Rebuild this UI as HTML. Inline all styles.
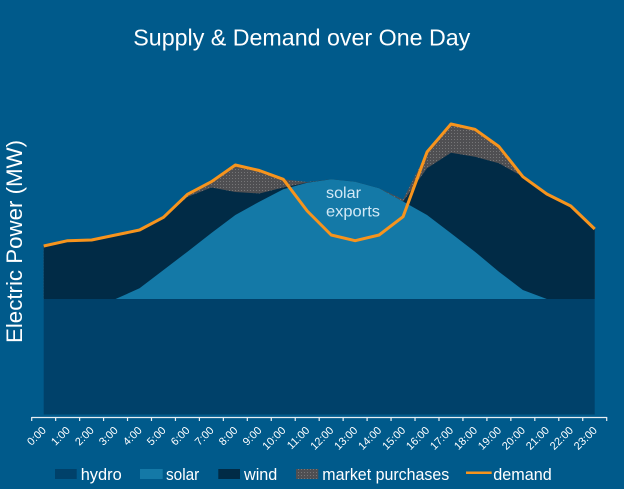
<!DOCTYPE html>
<html>
<head>
<meta charset="utf-8">
<style>
  html,body{margin:0;padding:0;background:#005A8B;}
  svg{display:block;}
  text{font-family:"Liberation Sans", sans-serif;}
</style>
</head>
<body>
<svg width="624" height="489" viewBox="0 0 624 489" xmlns="http://www.w3.org/2000/svg">
  <defs>
    <pattern id="dots" width="3" height="3" patternUnits="userSpaceOnUse">
      <rect width="3" height="3" fill="#4f4f52"/>
      <rect x="1" y="1" width="1" height="1" fill="#767678"/>
    </pattern>
  </defs>
  <rect width="624" height="489" fill="#005A8B"/>

  <!-- Title -->
  <text x="133.3" y="45.5" font-size="23" fill="#FFFFFF" textLength="337" lengthAdjust="spacingAndGlyphs">Supply &amp; Demand over One Day</text>

  <!-- Y axis label -->
  <text transform="translate(22,241.5) rotate(-90)" text-anchor="middle" font-size="22" fill="#FFFFFF" textLength="203" lengthAdjust="spacingAndGlyphs">Electric Power (MW)</text>

  <!-- Market purchases (top cumulative) -->
  <polygon fill="url(#dots)" points="43.7,246 67.66,240.7 91.62,240 115.57,235 139.53,230 163.49,217.3 187.45,194.3 211.41,181.7 235.36,165 259.32,170.5 283.28,179.3 307.24,182 331.2,179.3 355.15,181.7 379.11,188.3 403.07,199.5 427.03,152 450.99,124 474.94,129.3 498.9,146.5 522.86,176.7 546.82,194 570.78,206 594.73,229 594.73,299 43.7,299"/>

  <!-- Wind -->
  <polygon fill="#012B46" points="43.7,246 67.66,240.7 91.62,240 115.57,235 139.53,230 163.49,217.3 187.45,197 211.41,187.5 235.36,192 259.32,193.5 283.28,187.5 307.24,182.5 331.2,179.3 355.15,181.7 379.11,188.3 403.07,201.5 427.03,168.3 450.99,152.7 474.94,156.7 498.9,163.3 522.86,176.7 546.82,194 570.78,206 594.73,229 594.73,299 43.7,299"/>

  <!-- Solar -->
  <polygon fill="#1479A7" points="43.7,299 115.57,299 139.53,288.3 163.49,270 187.45,251.7 211.41,233 235.36,215 259.32,201.7 283.28,189.3 307.24,182.7 331.2,179.3 355.15,181.7 379.11,188.3 403.07,201.5 427.03,215 450.99,233.3 474.94,251.7 498.9,271.7 522.86,290 546.82,299 594.73,299"/>

  <!-- Hydro -->
  <rect x="43.7" y="299" width="551" height="115.5" fill="#00416A"/>

  <!-- solar exports label -->
  <text x="326" y="198" font-size="16" fill="#D3E9F6" textLength="35" lengthAdjust="spacingAndGlyphs">solar</text>
  <text x="326" y="216.5" font-size="16" fill="#D3E9F6" textLength="54" lengthAdjust="spacingAndGlyphs">exports</text>

  <!-- Demand line -->
  <polyline fill="none" stroke="#F7941D" stroke-width="3" stroke-linejoin="round" stroke-linecap="butt" points="43.7,246 67.66,240.7 91.62,240 115.57,235 139.53,230 163.49,217.3 187.45,194.3 211.41,181.7 235.36,165 259.32,170.5 283.28,179.3 307.24,211 331.2,235 355.15,240.7 379.11,235 403.07,216.7 427.03,152 450.99,124 474.94,129.3 498.9,146.5 522.86,176.7 546.82,194 570.78,206 594.73,229"/>

  <!-- X axis -->
  <line x1="31.7" y1="417.5" x2="606.7" y2="417.5" stroke="#E8EEF2" stroke-width="1.2"/>
  <g stroke="#E8EEF2" stroke-width="1.2">
    <line x1="31.7" y1="417" x2="31.7" y2="421"/>
    <line x1="55.66" y1="417" x2="55.66" y2="421"/>
    <line x1="79.62" y1="417" x2="79.62" y2="421"/>
    <line x1="103.57" y1="417" x2="103.57" y2="421"/>
    <line x1="127.53" y1="417" x2="127.53" y2="421"/>
    <line x1="151.49" y1="417" x2="151.49" y2="421"/>
    <line x1="175.45" y1="417" x2="175.45" y2="421"/>
    <line x1="199.41" y1="417" x2="199.41" y2="421"/>
    <line x1="223.36" y1="417" x2="223.36" y2="421"/>
    <line x1="247.32" y1="417" x2="247.32" y2="421"/>
    <line x1="271.28" y1="417" x2="271.28" y2="421"/>
    <line x1="295.24" y1="417" x2="295.24" y2="421"/>
    <line x1="319.2" y1="417" x2="319.2" y2="421"/>
    <line x1="343.15" y1="417" x2="343.15" y2="421"/>
    <line x1="367.11" y1="417" x2="367.11" y2="421"/>
    <line x1="391.07" y1="417" x2="391.07" y2="421"/>
    <line x1="415.03" y1="417" x2="415.03" y2="421"/>
    <line x1="438.99" y1="417" x2="438.99" y2="421"/>
    <line x1="462.94" y1="417" x2="462.94" y2="421"/>
    <line x1="486.9" y1="417" x2="486.9" y2="421"/>
    <line x1="510.86" y1="417" x2="510.86" y2="421"/>
    <line x1="534.82" y1="417" x2="534.82" y2="421"/>
    <line x1="558.78" y1="417" x2="558.78" y2="421"/>
    <line x1="582.73" y1="417" x2="582.73" y2="421"/>
    <line x1="606.7" y1="417" x2="606.7" y2="421"/>
  </g>

  <!-- X tick labels -->
  <g font-size="11" fill="#FFFFFF" text-anchor="end">
    <text transform="translate(46.7,431) rotate(-45)">0:00</text>
    <text transform="translate(70.66,431) rotate(-45)">1:00</text>
    <text transform="translate(94.62,431) rotate(-45)">2:00</text>
    <text transform="translate(118.57,431) rotate(-45)">3:00</text>
    <text transform="translate(142.53,431) rotate(-45)">4:00</text>
    <text transform="translate(166.49,431) rotate(-45)">5:00</text>
    <text transform="translate(190.45,431) rotate(-45)">6:00</text>
    <text transform="translate(214.41,431) rotate(-45)">7:00</text>
    <text transform="translate(238.36,431) rotate(-45)">8:00</text>
    <text transform="translate(262.32,431) rotate(-45)">9:00</text>
    <text transform="translate(286.28,431) rotate(-45)">10:00</text>
    <text transform="translate(310.24,431) rotate(-45)">11:00</text>
    <text transform="translate(334.2,431) rotate(-45)">12:00</text>
    <text transform="translate(358.15,431) rotate(-45)">13:00</text>
    <text transform="translate(382.11,431) rotate(-45)">14:00</text>
    <text transform="translate(406.07,431) rotate(-45)">15:00</text>
    <text transform="translate(430.03,431) rotate(-45)">16:00</text>
    <text transform="translate(453.99,431) rotate(-45)">17:00</text>
    <text transform="translate(477.94,431) rotate(-45)">18:00</text>
    <text transform="translate(501.9,431) rotate(-45)">19:00</text>
    <text transform="translate(525.86,431) rotate(-45)">20:00</text>
    <text transform="translate(549.82,431) rotate(-45)">21:00</text>
    <text transform="translate(573.78,431) rotate(-45)">22:00</text>
    <text transform="translate(597.73,431) rotate(-45)">23:00</text>
  </g>

  <!-- Legend -->
  <rect x="55" y="469" width="21.7" height="10" fill="#00416A"/>
  <text x="80.7" y="480" font-size="17" fill="#FFFFFF" textLength="41" lengthAdjust="spacingAndGlyphs">hydro</text>
  <rect x="140" y="469" width="22.7" height="10" fill="#1479A7"/>
  <text x="166" y="480" font-size="17" fill="#FFFFFF" textLength="33.3" lengthAdjust="spacingAndGlyphs">solar</text>
  <rect x="218.3" y="469" width="21.7" height="10" fill="#012B46"/>
  <text x="244" y="480" font-size="17" fill="#FFFFFF" textLength="33.3" lengthAdjust="spacingAndGlyphs">wind</text>
  <rect x="296" y="469" width="22.3" height="10" fill="url(#dots)"/>
  <text x="322.3" y="480" font-size="17" fill="#FFFFFF" textLength="127" lengthAdjust="spacingAndGlyphs">market purchases</text>
  <line x1="466" y1="472.7" x2="491.7" y2="472.7" stroke="#F7941D" stroke-width="2.5"/>
  <text x="493.3" y="480" font-size="17" fill="#FFFFFF" textLength="58.4" lengthAdjust="spacingAndGlyphs">demand</text>
</svg>
</body>
</html>
